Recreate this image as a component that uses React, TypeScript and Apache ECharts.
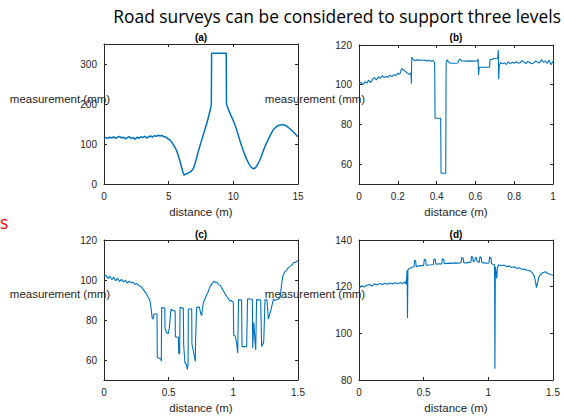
import React, { useEffect, useRef } from 'react';
import * as echarts from 'echarts';

// ---------- (a) ----------
const aX = [0, 0.15, 0.3, 0.45, 0.6, 0.75, 0.9, 1.05, 1.2, 1.35, 1.5, 1.65, 1.8, 1.95, 2.1, 2.25, 2.4, 2.55, 2.7, 2.85, 3.0, 3.15, 3.3, 3.45, 3.6, 3.75, 3.9, 4.05, 4.2, 4.35, 4.5, 4.65, 4.8, 4.95, 5.1, 5.25, 5.4, 5.55, 5.7, 5.85, 6.0, 6.1, 6.2, 6.3, 6.45, 6.6, 6.75, 6.9, 7.05, 7.2, 7.35, 7.5, 7.65, 7.8, 7.95, 8.1, 8.25, 8.3, 8.32, 9.45, 9.47, 9.5, 9.65, 9.8, 9.95, 10.1, 10.25, 10.4, 10.55, 10.7, 10.85, 11.0, 11.15, 11.3, 11.45, 11.6, 11.75, 11.9, 12.05, 12.2, 12.35, 12.5, 12.65, 12.8, 12.95, 13.1, 13.25, 13.4, 13.55, 13.7, 13.85, 14.0, 14.15, 14.3, 14.45, 14.6, 14.75, 14.9, 15];
const aY = [113, 116, 114, 117, 115, 118, 114, 117, 119, 115, 117, 113, 116, 118, 114, 116, 112, 117, 115, 118, 116, 119, 115, 118, 120, 117, 121, 119, 122, 120, 121, 118, 117, 113, 110, 104, 96, 88, 76, 60, 42, 30, 22, 25, 26, 29, 32, 38, 52, 70, 88, 104, 120, 136, 152, 170, 190, 200, 327, 327, 200, 197, 184, 172, 162, 150, 136, 120, 104, 90, 76, 64, 54, 45, 40, 38, 42, 50, 60, 72, 86, 98, 108, 118, 128, 136, 141, 145, 147, 148, 148, 147, 144, 140, 136, 131, 126, 121, 118];

// ---------- (b) ----------
const bX = [0, 0.01, 0.02, 0.03, 0.04, 0.05, 0.06, 0.07, 0.08, 0.09, 0.10, 0.11, 0.12, 0.13, 0.14, 0.15, 0.16, 0.17, 0.18, 0.19, 0.20, 0.21, 0.22, 0.23, 0.24, 0.25, 0.26, 0.268, 0.27, 0.272, 0.28, 0.29, 0.30, 0.32, 0.34, 0.35, 0.36, 0.37, 0.38, 0.39, 0.392, 0.421, 0.423, 0.447, 0.449, 0.455, 0.46, 0.47, 0.49, 0.51, 0.515, 0.52, 0.53, 0.55, 0.57, 0.59, 0.61, 0.614, 0.616, 0.62, 0.65, 0.673, 0.675, 0.69, 0.70, 0.715, 0.718, 0.72, 0.723, 0.73, 0.74, 0.75, 0.76, 0.77, 0.78, 0.79, 0.80, 0.81, 0.82, 0.83, 0.84, 0.85, 0.86, 0.87, 0.88, 0.89, 0.90, 0.91, 0.92, 0.93, 0.94, 0.95, 0.96, 0.97, 0.98, 0.99, 1.0];
const bY = [100.5, 101.2, 100.0, 101.5, 100.8, 102.3, 101.0, 102.8, 103.5, 102.4, 104.0, 103.2, 104.5, 103.6, 104.2, 103.8, 104.8, 104.1, 105.0, 104.6, 105.8, 105.2, 108.2, 107.4, 106.6, 105.8, 105.2, 106.0, 100.5, 113.8, 112.6, 112.2, 112.5, 112.3, 112.4, 112.0, 112.3, 111.8, 112.2, 111.2, 83.1, 83.1, 55.4, 55.4, 111.0, 112.6, 111.6, 110.8, 110.8, 110.9, 112.5, 112.8, 112.0, 111.9, 112.0, 111.9, 112.0, 113.0, 104.9, 108.8, 108.8, 108.8, 112.5, 113.0, 113.2, 113.3, 117.5, 102.7, 109.8, 111.2, 110.5, 111.0, 110.2, 111.5, 110.6, 111.3, 110.8, 111.6, 110.9, 111.0, 112.2, 111.4, 110.6, 111.7, 111.2, 110.5, 111.0, 112.0, 111.4, 110.9, 112.6, 111.3, 112.0, 110.8, 112.4, 110.0, 111.8];

// ---------- (c) ----------
const cX = [0, 0.015, 0.03, 0.045, 0.06, 0.075, 0.09, 0.105, 0.12, 0.135, 0.15, 0.165, 0.18, 0.195, 0.21, 0.225, 0.24, 0.255, 0.27, 0.285, 0.30, 0.315, 0.33, 0.345, 0.355, 0.365, 0.372, 0.38, 0.385, 0.41, 0.412, 0.44, 0.443, 0.446, 0.47, 0.472, 0.485, 0.497, 0.505, 0.518, 0.535, 0.55, 0.552, 0.575, 0.578, 0.585, 0.588, 0.613, 0.616, 0.626, 0.636, 0.644, 0.65, 0.652, 0.678, 0.68, 0.706, 0.708, 0.716, 0.737, 0.745, 0.755, 0.762, 0.768, 0.78, 0.794, 0.805, 0.82, 0.835, 0.85, 0.86, 0.87, 0.885, 0.9, 0.918, 0.93, 0.948, 0.96, 0.974, 0.985, 1.0, 1.003, 1.015, 1.026, 1.034, 1.04, 1.064, 1.067, 1.103, 1.11, 1.147, 1.15, 1.158, 1.165, 1.173, 1.18, 1.211, 1.219, 1.235, 1.245, 1.26, 1.271, 1.289, 1.309, 1.33, 1.345, 1.361, 1.37, 1.381, 1.395, 1.412, 1.425, 1.44, 1.451, 1.465, 1.48, 1.5];
const cY = [101.6, 102.3, 100.8, 101.9, 100.2, 101.5, 99.6, 100.9, 99.2, 100.3, 99.0, 99.8, 98.5, 99.4, 98.6, 98.9, 97.8, 98.2, 97.1, 96.8, 95.6, 94.2, 92.8, 91.0, 89.8, 85.5, 81.0, 80.4, 83.0, 83.0, 61.3, 60.5, 59.3, 86.2, 86.0, 75.6, 73.5, 73.2, 76.0, 85.4, 84.6, 84.6, 71.5, 71.5, 63.4, 63.0, 86.2, 86.0, 67.5, 58.5, 58.0, 55.3, 58.0, 85.4, 85.6, 68.0, 59.3, 70.0, 86.2, 86.6, 84.0, 82.1, 86.0, 88.6, 90.5, 92.7, 94.0, 96.7, 98.2, 99.5, 98.6, 99.0, 97.8, 97.2, 95.1, 93.8, 91.9, 90.8, 89.4, 89.8, 88.8, 72.4, 72.0, 68.3, 63.4, 90.2, 90.0, 66.7, 66.7, 90.6, 90.4, 65.9, 78.9, 72.0, 65.0, 90.2, 90.0, 66.7, 69.0, 90.2, 90.0, 80.5, 84.6, 90.2, 90.0, 90.4, 91.0, 96.0, 101.6, 103.8, 104.9, 106.2, 106.8, 107.3, 108.6, 108.9, 109.8];

// ---------- (d) ----------
const dX = [0, 0.02, 0.04, 0.06, 0.08, 0.10, 0.12, 0.14, 0.16, 0.18, 0.20, 0.22, 0.24, 0.26, 0.28, 0.30, 0.32, 0.34, 0.355, 0.365, 0.372, 0.375, 0.378, 0.39, 0.41, 0.425, 0.43, 0.438, 0.442, 0.46, 0.48, 0.50, 0.505, 0.515, 0.52, 0.54, 0.56, 0.575, 0.58, 0.59, 0.595, 0.62, 0.64, 0.645, 0.655, 0.66, 0.68, 0.70, 0.72, 0.74, 0.76, 0.78, 0.79, 0.795, 0.805, 0.81, 0.83, 0.85, 0.865, 0.87, 0.878, 0.885, 0.895, 0.905, 0.915, 0.93, 0.935, 0.945, 0.95, 0.97, 0.99, 1.005, 1.01, 1.02, 1.025, 1.04, 1.048, 1.051, 1.054, 1.06, 1.065, 1.07, 1.08, 1.10, 1.12, 1.14, 1.16, 1.18, 1.20, 1.22, 1.24, 1.26, 1.28, 1.30, 1.32, 1.34, 1.355, 1.365, 1.372, 1.38, 1.39, 1.40, 1.42, 1.44, 1.46, 1.48, 1.50];
const dY = [119.3, 120.4, 119.8, 120.6, 120.9, 120.3, 121.2, 120.7, 121.4, 120.9, 121.5, 121.0, 121.6, 121.1, 121.7, 121.2, 121.8, 121.3, 122.2, 121.0, 127.0, 106.6, 127.2, 127.8, 128.3, 128.5, 131.3, 131.0, 128.6, 128.9, 129.0, 129.1, 131.8, 131.5, 129.2, 129.3, 129.4, 129.5, 131.9, 131.6, 129.6, 129.8, 129.7, 132.0, 131.7, 129.8, 130.0, 130.1, 130.0, 130.2, 130.1, 130.2, 130.4, 132.5, 132.2, 130.3, 130.2, 130.4, 130.5, 133.0, 132.6, 130.5, 131.5, 132.6, 130.8, 130.4, 132.8, 132.4, 130.3, 130.2, 130.0, 130.2, 132.7, 132.3, 129.8, 129.5, 129.3, 84.8, 128.5, 126.0, 123.5, 128.0, 129.4, 129.0, 129.3, 128.6, 128.9, 128.2, 128.5, 127.8, 128.1, 127.4, 127.6, 127.0, 126.8, 126.0, 124.5, 122.0, 119.6, 121.5, 124.0, 125.0, 126.0, 126.4, 125.6, 125.2, 124.9];

// axis extents and tick labels
const xRanges = [[0, 15, 5], [0, 1, 0.2], [0, 1.5, 0.5], [0, 1.5, 0.5]];
const yRanges = [[0, 350], [50, 120], [50, 120], [80, 140]];
const yTicks = [[0, 100, 200, 300], [60, 80, 100, 120], [60, 80, 100, 120], [80, 100, 120, 140]];
const panelTitles = ['(a)', '(b)', '(c)', '(d)'];
const mainTitle = 'Road surveys can be considered to support three levels';
const xName = 'distance (m)';
const yName = 'measurement (mm)';

const INK = '#262626';
const LINE = '#0072BD';
const lineWidths = [1.5, 1.1, 1.1, 1.1];

const grids = [
  { left: 104, top: 44, width: 194, height: 140 },
  { left: 359, top: 45, width: 194, height: 139 },
  { left: 104, top: 240, width: 194, height: 140 },
  { left: 359, top: 240, width: 194, height: 140 },
];

const pairs = (xs: number[], ys: number[]) => xs.map((x, i) => [x, ys[i]]);

export default function App() {
  const ref = useRef<HTMLDivElement>(null);
  useEffect(() => {
    if (!ref.current) return;
    const chart = echarts.init(ref.current, undefined, { renderer: 'svg' });
    const xAxis: any[] = [];
    const yAxis: any[] = [];
    grids.forEach((_, i) => {
      const [xmin, xmax, xint] = xRanges[i];
      const [ymin, ymax] = yRanges[i];
      const tickStyle = { show: true, inside: true, length: 3, lineStyle: { color: INK, width: 1 } };
      xAxis.push({
        type: 'value', gridIndex: i, min: xmin, max: xmax, interval: xint, position: 'bottom',
        axisLine: { show: true, onZero: false, lineStyle: { color: INK, width: 1 } },
        axisTick: tickStyle,
        splitLine: { show: false },
        axisLabel: { color: INK, fontSize: 10, fontFamily: 'Liberation Sans, Arial, sans-serif', margin: 7 },
        name: xName, nameLocation: 'middle', nameGap: 22,
        nameTextStyle: { color: INK, fontSize: 11.5, fontFamily: 'Liberation Sans, Arial, sans-serif' },
      });
      xAxis.push({
        type: 'value', gridIndex: i, min: xmin, max: xmax, interval: xint, position: 'top',
        axisLine: { show: true, onZero: false, lineStyle: { color: INK, width: 1 } },
        axisTick: tickStyle, splitLine: { show: false }, axisLabel: { show: false },
      });
      yAxis.push({
        type: 'value', gridIndex: i, min: ymin, max: ymax, position: 'left',
        axisLine: { show: true, onZero: false, lineStyle: { color: INK, width: 1 } },
        axisTick: { ...tickStyle, customValues: yTicks[i] },
        splitLine: { show: false },
        axisLabel: { color: INK, fontSize: 10, fontFamily: 'Liberation Sans, Arial, sans-serif', margin: 7, customValues: yTicks[i] },
      });
      yAxis.push({
        type: 'value', gridIndex: i, min: ymin, max: ymax, position: 'right',
        axisLine: { show: true, onZero: false, lineStyle: { color: INK, width: 1 } },
        axisTick: { ...tickStyle, customValues: yTicks[i] },
        splitLine: { show: false }, axisLabel: { show: false },
      });
    });
    const data = [pairs(aX, aY), pairs(bX, bY), pairs(cX, cY), pairs(dX, dY)];
    const series = data.map((d, i) => ({
      type: 'line', xAxisIndex: 2 * i, yAxisIndex: 2 * i, data: d, showSymbol: false,
      lineStyle: { color: LINE, width: lineWidths[i] }, itemStyle: { color: LINE }, silent: true,
    }));
    const txt = (text: string, x: number, y: number, opts: any = {}) => ({
      type: 'text', x, y, silent: true,
      style: {
        text, fill: opts.fill || INK, fontSize: opts.fontSize || 10,
        fontFamily: opts.fontFamily || 'Liberation Sans, Arial, sans-serif',
        fontWeight: opts.fontWeight || 'normal',
        align: opts.align || 'center', verticalAlign: 'middle',
      },
      z: 10,
    });
    const titlePos = [[201, 37], [456, 37], [201, 234], [456, 234]];
    const yNamePos = [[60, 99], [315, 99], [60, 294], [315, 294]];
    const graphic: any[] = [
      txt(mainTitle, 561, 16, { fontSize: 17.4, fontFamily: 'Open Sans, sans-serif', fill: '#000', align: 'right' }),
      txt('s', 0, 222, { fontSize: 17.4, fontFamily: 'Open Sans, sans-serif', fill: '#FF0000', align: 'left' }),
    ];
    panelTitles.forEach((t, i) => graphic.push(txt(t, titlePos[i][0], titlePos[i][1], { fontWeight: 'bold', fill: '#000' })));
    yNamePos.forEach((p) => graphic.push(txt(yName, p[0], p[1], { fontSize: 11.5 })));
    chart.setOption({
      animation: false,
      backgroundColor: '#ffffff',
      grid: grids.map((g) => ({ ...g, containLabel: false })),
      xAxis, yAxis, series, graphic,
    });
    return () => chart.dispose();
  }, []);
  return <div ref={ref} style={{ position: 'fixed', left: 0, top: 0, width: 564, height: 420 }} />;
}
